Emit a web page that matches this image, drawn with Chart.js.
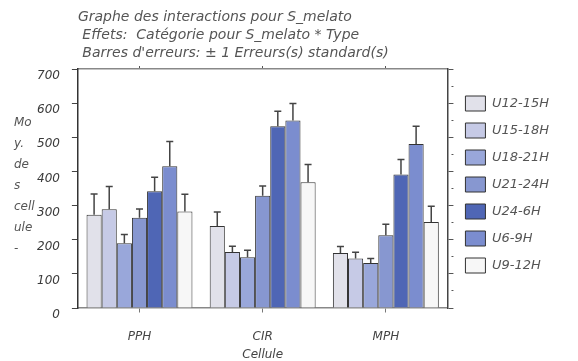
<!DOCTYPE html>
<html lang="fr">
<head>
    <meta charset="UTF-8">
    <title>Graphe des interactions pour S_melato</title>
    <script src="https://cdn.jsdelivr.net/npm/chart.js"></script>
    <style>
        html, body { margin: 0; padding: 0; background: #fff; }
        #wrap { width: 578px; height: 361px; }
    </style>
</head>
<body>
    <div id="wrap"><canvas id="myChart" width="578" height="361"></canvas></div>
    <script>
        // données
        const categories = ['PPH', 'CIR', 'MPH'];
        const seriesNames = ['U12-15H', 'U15-18H', 'U18-21H', 'U21-24H', 'U24-6H', 'U6-9H', 'U9-12H'];
        const u12_15 = [273, 240, 161];
        const u15_18 = [289, 164, 145];
        const u18_21 = [190, 149, 132];
        const u21_24 = [264, 329, 213];
        const u24_6  = [342, 532, 391];
        const u6_9   = [415, 549, 480];
        const u9_12  = [283, 368, 252];
        // erreurs standard (barre vers le haut)
        const se12_15 = [61, 41, 19];
        const se15_18 = [67, 17, 18];
        const se18_21 = [25, 20, 13];
        const se21_24 = [26, 28, 32];
        const se24_6  = [41, 44, 44];
        const se6_9   = [73, 50, 52];
        const se9_12  = [50, 52, 46];
        const yTicks = [0, 100, 200, 300, 400, 500, 600, 700];

        const seriesValues = [u12_15, u15_18, u18_21, u21_24, u24_6, u6_9, u9_12];
        const seriesErrors = [se12_15, se15_18, se18_21, se21_24, se24_6, se6_9, se9_12];
        const colors = ['#e1e1ea', '#c6cae6', '#99a7da', '#8797d0', '#4f66b5', '#7b8dcf', '#f7f7f7'];

        const FONT = 'DejaVu Sans';
        const titleLines = [
            'Graphe des interactions pour S_melato',
            ' Effets:  Catégorie pour S_melato * Type',
            ' Barres d\'erreurs: ± 1 Erreurs(s) standard(s)'
        ];
        const yTitleLines = ['Mo', 'y.', 'de', 's', 'cell', 'ule', '-'];

        const datasets = seriesNames.map((name, i) => ({
            label: name,
            data: seriesValues[i],
            errors: seriesErrors[i],
            backgroundColor: colors[i],
            borderColor: '#333',
            borderWidth: 1,
            categoryPercentage: 0.86,
            barPercentage: 1.0
        }));

        // barres d'erreurs
        const errorBars = {
            id: 'errorBars',
            afterDatasetsDraw(chart) {
                const ctx = chart.ctx;
                const yScale = chart.scales.y;
                ctx.save();
                ctx.strokeStyle = '#444';
                ctx.lineWidth = 1.5;
                chart.data.datasets.forEach((ds, i) => {
                    const meta = chart.getDatasetMeta(i);
                    meta.data.forEach((bar, j) => {
                        const top = yScale.getPixelForValue(ds.data[j] + ds.errors[j]);
                        ctx.beginPath();
                        ctx.moveTo(bar.x, bar.y);
                        ctx.lineTo(bar.x, top);
                        ctx.moveTo(bar.x - 3.5, top);
                        ctx.lineTo(bar.x + 3.5, top);
                        ctx.stroke();
                    });
                });
                ctx.restore();
            }
        };

        // titre vertical coupé à gauche
        const yTitlePlugin = {
            id: 'yTitle',
            afterDraw(chart) {
                const ctx = chart.ctx;
                ctx.save();
                ctx.fillStyle = '#555';
                ctx.font = 'italic 12px "' + FONT + '"';
                ctx.textBaseline = 'middle';
                ctx.textAlign = 'left';
                yTitleLines.forEach((t, k) => ctx.fillText(t, 14, 123 + k * 21));
                ctx.restore();
            }
        };

        // petits traits : graduations principales (6px) et secondaires (3px), collés à l'axe
        const isMinor = c => c.tick && c.tick.value % 100 !== 0;
        const leftDash = c => isMinor(c) ? [3, 15] : [6, 12];
        const leftDashOffset = c => isMinor(c) ? 3 : 6;
        const rightDash = c => isMinor(c) ? [3, 3] : [];
        const rightDashOffset = c => isMinor(c) ? 3 : 0;

        const ctx = document.getElementById('myChart').getContext('2d');
        const myChart = new Chart(ctx, {
            type: 'bar',
            data: { labels: categories, datasets: datasets },
            options: {
                responsive: false,
                animation: false,
                layout: { padding: { top: 8, left: 37, right: 19, bottom: 0 } },
                plugins: {
                    title: { display: false },
                    tooltip: { enabled: false },
                    legend: {
                        position: 'right',
                        maxWidth: 140,
                        labels: {
                            boxWidth: 20,
                            boxHeight: 15,
                            padding: 12,
                            color: '#555',
                            font: { family: FONT, size: 13, style: 'italic' }
                        }
                    }
                },
                scales: {
                    x: {
                        position: 'bottom',
                        grid: {
                            offset: false,
                            drawOnChartArea: false,
                            tickLength: 23,
                            color: '#777',
                            tickBorderDash: [4, 40]
                        },
                        border: { color: '#888', width: 1.5 },
                        ticks: { padding: 0, color: '#444', font: { family: FONT, size: 12, style: 'italic', lineHeight: 1 } },
                        title: {
                            display: true,
                            text: 'Cellule',
                            color: '#444',
                            padding: { top: 6, bottom: 0 },
                            font: { family: FONT, size: 12, style: 'italic', lineHeight: 1 }
                        }
                    },
                    x2: {
                        type: 'category',
                        position: 'top',
                        grid: { offset: false, drawOnChartArea: false, tickLength: 3, color: '#555' },
                        border: { color: '#888', width: 1.5 },
                        ticks: { display: false },
                        title: {
                            display: true,
                            text: titleLines,
                            align: 'start',
                            color: '#555',
                            padding: { top: 0, bottom: 4 },
                            font: { family: FONT, size: 14, style: 'italic', lineHeight: 18 / 14 }
                        }
                    },
                    y: {
                        position: 'left',
                        min: 0,
                        max: 700,
                        grid: {
                            drawOnChartArea: false,
                            tickLength: 18,
                            color: '#444',
                            tickBorderDash: leftDash,
                            tickBorderDashOffset: leftDashOffset
                        },
                        border: { color: '#333', width: 1.5 },
                        ticks: {
                            stepSize: 50,
                            padding: 0,
                            labelOffset: 7,
                            color: '#3a3a3a',
                            font: { family: FONT, size: 12, style: 'italic' },
                            callback: v => yTicks.includes(v) ? String(v) : ''
                        }
                    },
                    y2: {
                        position: 'right',
                        min: 0,
                        max: 700,
                        grid: {
                            drawOnChartArea: false,
                            tickLength: 6,
                            color: '#555',
                            tickBorderDash: rightDash,
                            tickBorderDashOffset: rightDashOffset
                        },
                        border: { color: '#444', width: 1.5 },
                        ticks: { display: false, stepSize: 50 }
                    }
                }
            },
            plugins: [errorBars, yTitlePlugin]
        });
    </script>
</body>
</html>
